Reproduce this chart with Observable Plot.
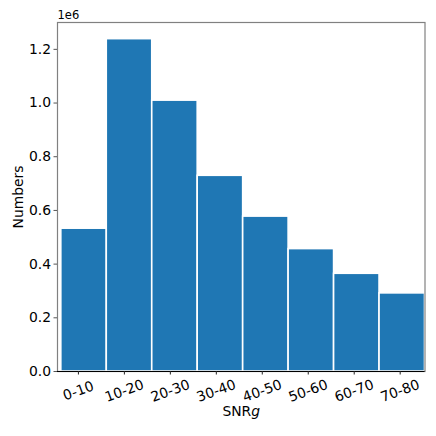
<!DOCTYPE html>
<html><head><meta charset="utf-8">
<script src="https://cdn.jsdelivr.net/npm/d3@7"></script>
<script src="https://cdn.jsdelivr.net/npm/@observablehq/plot@0.6"></script>
<style>body{margin:0;background:#fff} svg{display:block}</style>
</head><body><div id="chart"></div>
<script>
const categories = ["0-10","10-20","20-30","30-40","40-50","50-60","60-70","70-80"];
const tickPositions = [5,15,25,35,45,55,65,75];
const binEdges = [1.28,11.17,21.06,30.95,40.84,50.73,60.62,70.51,80.40];
const counts = [532000,1238000,1009000,729000,577000,456000,364000,291000];
const yTickValues = [0,0.2,0.4,0.6,0.8,1.0,1.2];
const yExponentLabel = "1e6";
const xTitle = "SNRg";
const yTitle = "Numbers";

const bars = counts.map((c,i)=>({x1: binEdges[i], x2: binEdges[i+1], y: c}));
const labels = categories.map((c,i)=>({x: tickPositions[i], label: c}));

const font = "'DejaVu Sans', sans-serif";
const chart = Plot.plot({
  width:436, height:436, marginLeft:57, marginRight:11.5, marginTop:22, marginBottom:65,
  style: {fontFamily: font, background:"#fff", color:"#000", fontSize:"13.9px"},
  x: {domain:[0.45,80.4], axis:null},
  y: {domain:[0,1.3e6], axis:null},
  marks: [
    Plot.rectY(bars, {x1:"x1", x2:"x2", y:"y", fill:"#1f77b4", stroke:"#fff", strokeWidth:1.6}),
    Plot.frame({stroke:"#808080", strokeWidth:1.2}),
    Plot.ruleY([0], {stroke:"#000", strokeWidth:1.2}),
    Plot.axisY(yTickValues.map(v=>v*1e6), {tickFormat: d=>(d/1e6).toFixed(1), tickSize:3.5, tickPadding:3, fontSize:13.9, label:null, stroke:"#555"}),
    Plot.axisX(tickPositions, {tickFormat: ()=>"", tickSize:3.5, label:null, stroke:"#222"}),
    Plot.text(labels, {x:"x", text:"label", frameAnchor:"bottom", lineAnchor:"middle", textAnchor:"middle", dy:19.5, rotate:-20, fontSize:13.9, fill:"#000"}),
    Plot.text([xTitle], {frameAnchor:"bottom", lineAnchor:"middle", textAnchor:"middle", dy:40, fontSize:13.9, fill:"#000"}),
    Plot.text([yTitle], {frameAnchor:"left", lineAnchor:"middle", textAnchor:"middle", dx:-39, rotate:-90, fontSize:13.9, fill:"#000"}),
    Plot.text([yExponentLabel], {frameAnchor:"top-left", textAnchor:"start", lineAnchor:"middle", dy:-7, fontSize:11.5, fill:"#000"})
  ]
});
d3.select(chart).selectAll("text").filter(function(){return this.textContent===xTitle;})
  .each(function(){
    const t = d3.select(this);
    t.text(null);
    t.append("tspan").text("SNR");
    t.append("tspan").attr("font-style","italic").text("g");
  });
document.getElementById("chart").append(chart);
</script>
</body></html>
